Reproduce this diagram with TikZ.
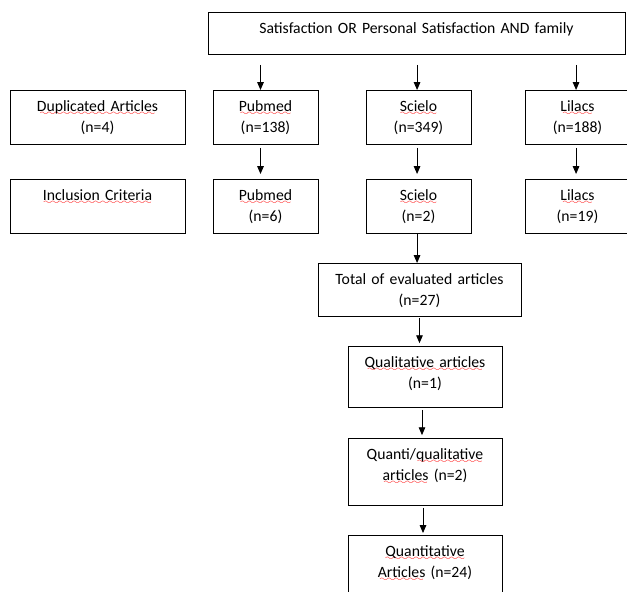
\documentclass[tikz,border=0pt]{standalone}
\usepackage{fontspec}
\setmainfont{Carlito}
\usetikzlibrary{arrows.meta}
\font\wavefont=lasy6
\newsavebox{\spellbox}
\newcommand{\spell}[1]{\leavevmode\sbox{\spellbox}{#1}\rlap{\raisebox{-2.8pt}{\textcolor{red}{\hbox to \wd\spellbox{\cleaders\hbox{\wavefont\char58}\hfill}}}}\usebox{\spellbox}}
\tikzset{
  box/.style={draw, line width=0.6pt, anchor=north, align=center, inner sep=0pt,
    text width=#1, text height=14.4pt, font=\fontsize{11}{14.7}\selectfont},
  arr/.style={line width=0.6pt, -{Triangle[length=5.5pt,width=4.6pt]}}
}
\begin{document}
\begin{tikzpicture}[x=0.7pt, y=-0.7pt]
         \useasboundingbox (0,0) rectangle (627,592);
         \clip (0,0) rectangle (627,592);
         \node [box=291.9pt, text depth=15pt] (T) at (416.5,12) {Satisfaction OR Personal Satisfaction AND family};
         \node [box=122.5pt, text depth=23.4pt] (D) at (97.5,90) {\spell{Duplicated Articles}\\(n=4)};
         \node [box=73.5pt, text depth=23.4pt] (P1) at (265.5,90) {\spell{Pubmed}\\(n=138)};
         \node [box=73.5pt, text depth=23.4pt] (S1) at (418.5,90) {\spell{Scielo}\\(n=349)};
         \node [box=73.5pt, text depth=23.4pt] (L1) at (577.5,90) {\spell{Lilacs}\\(n=188)};
         \node [box=122.5pt, text depth=23.4pt] (I) at (97.5,179) {\spell{Inclusion Criteria}};
         \node [box=73.5pt, text depth=23.4pt] (P2) at (265.5,179) {\spell{Pubmed}\\(n=6)};
         \node [box=73.5pt, text depth=23.4pt] (S2) at (418.5,179) {\spell{Scielo}\\(n=2)};
         \node [box=73.5pt, text depth=23.4pt] (L2) at (577.5,179) {\spell{Lilacs}\\(n=19)};
         \node [box=142.1pt, text depth=22.7pt] (E) at (419.5,263) {Total of evaluated articles\\(n=27)};
         \node [box=107.8pt, text depth=28.3pt] (QL) at (425,346) {\spell{Qualitative articles}\\(n=1)};
         \node [box=107.8pt, text depth=32.5pt] (QQ) at (425,438) {Quanti/\spell{qualitative}\\\spell{articles} (n=2)};
         \node [box=107.8pt, text depth=34.6pt] (QN) at (425,535) {\spell{Quantitative}\\\spell{Articles} (n=24)};
         \draw [arr, shorten <=7pt] ([xshift=-3.5pt]P1.north |- T.south) -- ([xshift=-3.5pt]P1.north);
         \draw [arr, shorten <=7pt] ([xshift=-1pt]S1.north |- T.south) -- ([xshift=-1pt]S1.north);
         \draw [arr, shorten <=7pt] ([xshift=-1pt]L1.north |- T.south) -- ([xshift=-1pt]L1.north);
         \draw [arr, shorten <=2.1pt, shorten >=3.5pt] ([xshift=-3.5pt]P1.south) -- ([xshift=-3.5pt]P2.north);
         \draw [arr, shorten <=2.1pt, shorten >=3.5pt] ([xshift=-1pt]S1.south) -- ([xshift=-1pt]S2.north);
         \draw [arr, shorten <=2.1pt, shorten >=3.5pt] ([xshift=-1pt]L1.south) -- ([xshift=-1pt]L2.north);
         \draw [arr] ([xshift=-1pt]S2.south) -- ([xshift=-1pt]S2.south |- E.north);
         \draw [arr, shorten <=0.7pt, shorten >=2pt] (E.south) -- (E.south |- QL.north);
         \draw [arr, shorten <=1.4pt, shorten >=2pt] ([xshift=-2.1pt]QL.south) -- ([xshift=-2.1pt]QQ.north);
         \draw [arr, shorten <=1.4pt, shorten >=1.4pt] ([xshift=-1.4pt]QQ.south) -- ([xshift=-1.4pt]QN.north);
\end{tikzpicture}
\end{document}
